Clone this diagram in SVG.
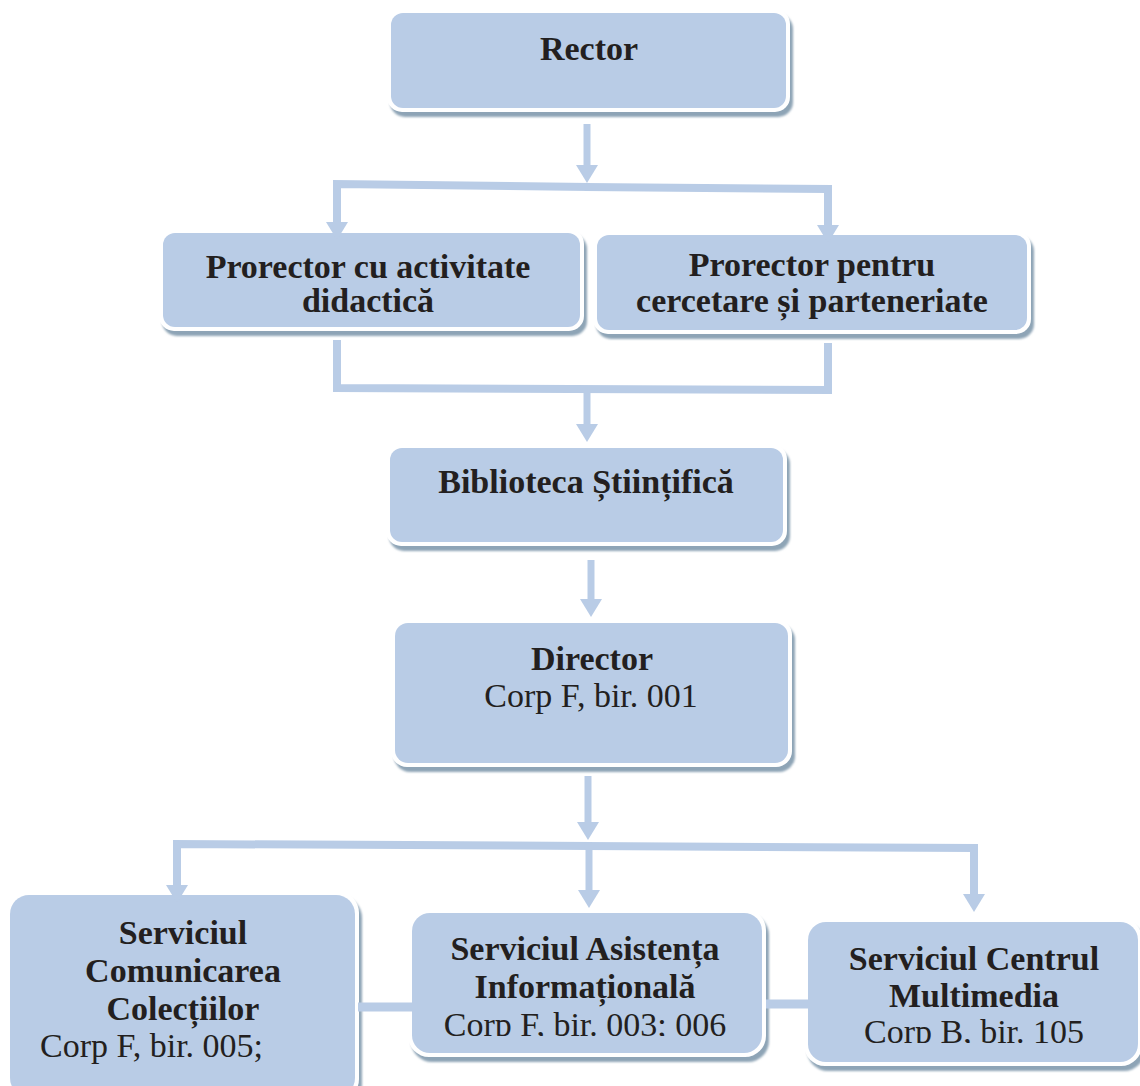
<svg xmlns="http://www.w3.org/2000/svg" width="1140" height="1086" viewBox="0 0 1140 1086">
<defs>
<style>
.box{fill:#b9cce6}
.frame{fill:#ffffff}
.shadow{fill:#8ea4b6;filter:url(#blur)}
.t{font-family:"Liberation Serif","DejaVu Serif",serif;font-size:34px;fill:#231f20;text-anchor:middle}
.b{font-weight:bold}
.con{fill:none;stroke:#b9cce6;stroke-width:8;stroke-linejoin:miter}
.arr{marker-end:url(#ah)}
</style>
<filter id="blur" x="-5%" y="-5%" width="110%" height="120%"><feGaussianBlur stdDeviation="1"/></filter>
<marker id="ah" viewBox="0 0 18 22" refX="0" refY="11" markerWidth="18" markerHeight="22" markerUnits="userSpaceOnUse" orient="auto">
<path d="M0,0 L18,11 L0,22 Z" fill="#b9cce6"/>
</marker>
<clipPath id="clipM"><rect x="400" y="1005" width="370" height="31"/></clipPath>
<clipPath id="clipR"><rect x="800" y="1012" width="340" height="31"/></clipPath>
</defs>

<g id="rector">
<rect class="shadow" x="390" y="14" width="403" height="103" rx="15"/>
<rect class="frame" x="387" y="9" width="403" height="103" rx="15"/>
<rect class="box" x="391" y="13" width="395" height="95" rx="12"/>
<text class="t b" x="589" y="60">Rector</text>
</g>

<g id="prorector-didactica">
<rect class="shadow" x="162" y="234" width="425" height="102" rx="15"/>
<rect class="frame" x="159" y="229" width="425" height="102" rx="15"/>
<rect class="box" x="163" y="233" width="417" height="94" rx="12"/>
<text class="t b" x="368" y="278">Prorector cu activitate</text>
<text class="t b" x="368" y="312">didactică</text>
</g>

<g id="prorector-cercetare">
<rect class="shadow" x="596" y="236" width="438" height="103" rx="15"/>
<rect class="frame" x="593" y="231" width="438" height="103" rx="15"/>
<rect class="box" x="597" y="235" width="430" height="95" rx="12"/>
<text class="t b" x="812" y="276">Prorector pentru</text>
<text class="t b" x="812" y="312">cercetare și parteneriate</text>
</g>

<g id="biblioteca">
<rect class="shadow" x="389" y="449" width="401" height="102" rx="15"/>
<rect class="frame" x="386" y="444" width="401" height="102" rx="15"/>
<rect class="box" x="390" y="448" width="393" height="94" rx="12"/>
<text class="t b" x="586" y="493">Biblioteca Științifică</text>
</g>

<g id="director">
<rect class="shadow" x="394" y="624" width="401" height="148" rx="16"/>
<rect class="frame" x="391" y="619" width="401" height="148" rx="16"/>
<rect class="box" x="395" y="623" width="393" height="140" rx="13"/>
<text class="t b" x="592" y="670">Director</text>
<text class="t" x="591" y="707">Corp F, bir. 001</text>
</g>

<g id="serviciul-comunicarea">
<rect class="shadow" x="9" y="896" width="353" height="210" rx="22"/>
<rect class="frame" x="6" y="891" width="353" height="210" rx="22"/>
<rect class="box" x="10" y="895" width="345" height="202" rx="19"/>
<text class="t b" x="183" y="944">Serviciul</text>
<text class="t b" x="183" y="982">Comunicarea</text>
<text class="t b" x="183" y="1020">Colecțiilor</text>
<text class="t" x="40" y="1057" style="text-anchor:start">Corp F, bir. 005;</text>
</g>

<g id="serviciul-asistenta">
<rect class="shadow" x="411" y="914" width="358" height="148" rx="21"/>
<rect class="frame" x="408" y="909" width="358" height="148" rx="21"/>
<rect class="box" x="412" y="913" width="350" height="140" rx="18"/>
<text class="t b" x="585" y="960">Serviciul Asistența</text>
<text class="t b" x="585" y="998">Informațională</text>
<text class="t" x="585" y="1036" clip-path="url(#clipM)">Corp F, bir. 003; 006</text>
</g>

<g id="serviciul-multimedia">
<rect class="shadow" x="807" y="923" width="338" height="148" rx="21"/>
<rect class="frame" x="804" y="918" width="338" height="148" rx="21"/>
<rect class="box" x="808" y="922" width="330" height="140" rx="18"/>
<text class="t b" x="974" y="970">Serviciul Centrul</text>
<text class="t b" x="974" y="1007">Multimedia</text>
<text class="t" x="974" y="1043" clip-path="url(#clipR)">Corp B, bir. 105</text>
</g>

<g id="connectors">
<path class="con arr" d="M587,124 V165" style="stroke-width:7"/>
<path class="con arr" d="M590,187 L337,184 V222"/>
<path class="con arr" d="M585,187 L828,189 V225"/>
<path class="con" d="M337,340 V388 L828,390 V343"/>
<path class="con arr" d="M587,389 V424" style="stroke-width:7"/>
<path class="con arr" d="M591,560 V599" style="stroke-width:7"/>
<path class="con arr" d="M588,776 V822" style="stroke-width:7"/>
<path class="con arr" d="M592,846 L177,844 V885"/>
<path class="con arr" d="M585,846 L974,848 V894"/>
<path class="con arr" d="M589,846 V890" style="stroke-width:7"/>
<path class="con" d="M358,1007 H412" style="stroke-width:9"/>
<path class="con" d="M766,1004 H808" style="stroke-width:9"/>
</g>
</svg>
